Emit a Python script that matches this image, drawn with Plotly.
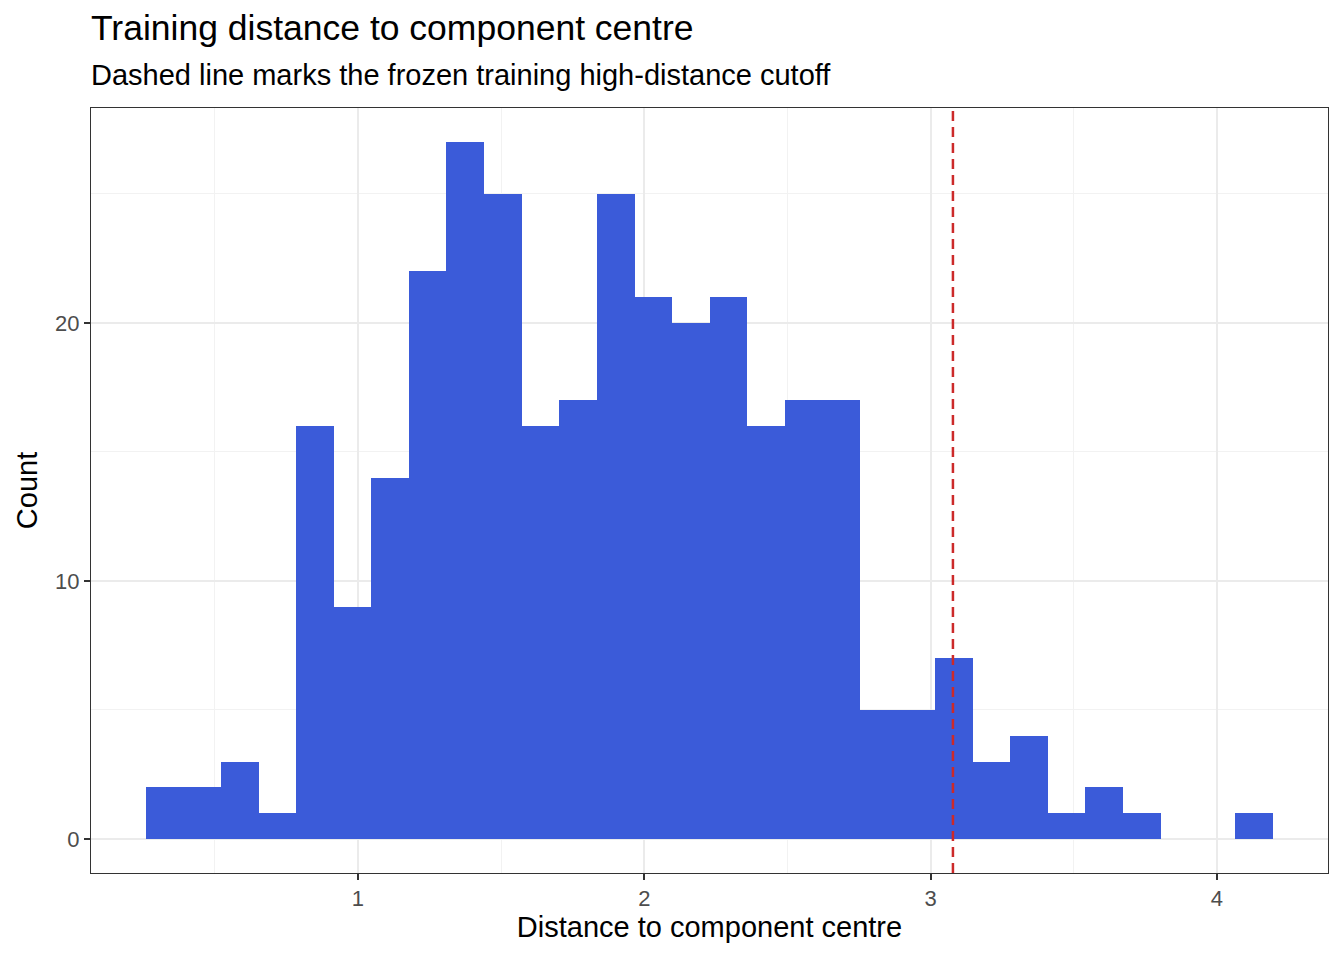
import plotly.graph_objects as go

# histogram of training distances (30 bins, width ~0.131)
bin_centres = [0.326, 0.457, 0.588, 0.719, 0.851, 0.982, 1.113, 1.244, 1.375, 1.506,
               1.638, 1.769, 1.900, 2.031, 2.162, 2.294, 2.425, 2.556, 2.687, 2.818,
               2.950, 3.081, 3.212, 3.343, 3.474, 3.605, 3.737, 3.868, 3.999, 4.130]
bin_width = 0.1312
counts = [2, 2, 3, 1, 16, 9, 14, 22, 27, 25,
          16, 17, 25, 21, 20, 21, 16, 17, 17, 5,
          5, 7, 3, 4, 1, 2, 1, 0, 0, 1]
cutoff = 3.078

x_ticks = [1, 2, 3, 4]
y_ticks = [0, 10, 20]

# page body has an 8px margin, so the figure is a bit smaller than the window
W, H = 1328, 944
ML, MR, MT, MB = 83, 8, 100, 79
font = "Liberation Sans, Arial, sans-serif"

fig = go.Figure()
fig.add_trace(go.Bar(
    x=bin_centres, y=counts, width=bin_width + 0.0008,
    marker=dict(color="#3B5BD9", line=dict(width=0)),
    hoverinfo="x+y", showlegend=False,
))

# dashed cutoff line
fig.add_shape(type="line", xref="x", yref="paper", x0=cutoff, x1=cutoff, y0=0, y1=1,
              line=dict(color="#CC2A2A", width=2.5, dash="10px,6px"))

ph = H - MT - MB
fig.add_annotation(text="Dashed line marks the frozen training high-distance cutoff",
                   xref="paper", yref="paper", x=-0.002, y=1 + (MT - 67) / ph,
                   xanchor="left", yanchor="middle", showarrow=False,
                   font=dict(size=29, color="black", family=font))

axis_common = dict(
    showline=True, linecolor="#333333", linewidth=1, mirror=True,
    ticks="outside", ticklen=6, tickcolor="#333333", tickwidth=1.5,
    tickfont=dict(size=22, color="#4D4D4D", family=font),
    showgrid=True, gridcolor="#EBEBEB", gridwidth=2,
    minor=dict(showgrid=True, gridcolor="#F2F2F2", gridwidth=1, ticks=""),
    zeroline=False,
)

fig.update_xaxes(axis_common, range=[0.0675, 4.388], tickvals=x_ticks,
                 minor_tickvals=[0.5, 1.5, 2.5, 3.5],
                 title=dict(text="Distance to component centre", standoff=6,
                            font=dict(size=29, color="black", family=font)))
fig.update_yaxes(axis_common, range=[-1.32, 28.33], tickvals=y_ticks,
                 minor_tickvals=[5, 15, 25],
                 title=dict(text="Count", standoff=8,
                            font=dict(size=29, color="black", family=font)))

fig.update_layout(
    width=W, height=H,
    margin=dict(l=ML, r=MR, t=MT, b=MB),
    plot_bgcolor="white", paper_bgcolor="white",
    bargap=0,
    title=dict(text="Training distance to component centre", x=ML / W, xanchor="left",
               y=1 - 20 / H, yanchor="middle",
               font=dict(size=35.5, color="black", family=font)),
)

fig.write_html("out.html")
